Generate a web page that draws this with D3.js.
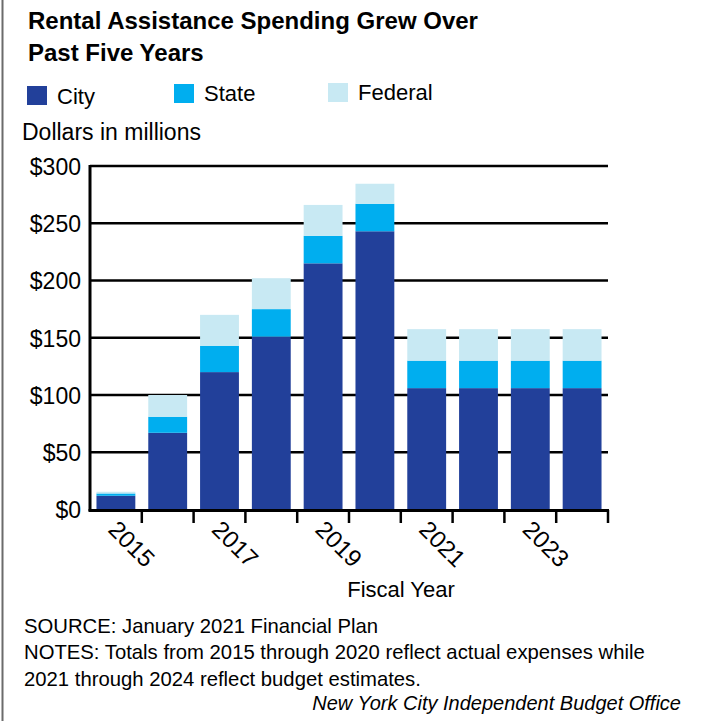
<!DOCTYPE html>
<html>
<head>
<meta charset="utf-8">
<script src="https://cdn.jsdelivr.net/npm/d3@7"></script>
<style>
  html, body { margin: 0; padding: 0; background: #fff; }
  svg { display: block; }
  text { font-family: "Liberation Sans", Arial, sans-serif; fill: #000; }
</style>
</head>
<body>
<svg id="chart" width="704" height="721"></svg>
<script>
const years = ["2015","2016","2017","2018","2019","2020","2021","2022","2023","2024"];
const city    = [12, 67, 120, 151, 215, 243, 106, 106, 106, 106];
const state   = [2, 14, 23, 24, 24, 24, 24, 24, 24, 24];
const federal = [1.5, 19, 27, 27, 27, 17.5, 27.5, 27.5, 27.5, 27.5];
const seriesNames = ["City", "State", "Federal"];
const seriesColors = ["#22409a", "#00aeef", "#c8e9f3"];
const yTicks = [0, 50, 100, 150, 200, 250, 300];
const xLabelYears = ["2015","2017","2019","2021","2023"];

const svg = d3.select("#chart");

// left border
svg.append("line").attr("x1", 2.5).attr("x2", 2.5).attr("y1", 0).attr("y2", 721)
  .attr("stroke", "#6b6b6b").attr("stroke-width", 2);

// title
const title = svg.append("text").attr("x", 28).attr("font-weight", "bold").attr("font-size", 24);
title.append("tspan").attr("x", 28).attr("y", 29).text("Rental Assistance Spending Grew Over");
title.append("tspan").attr("x", 28).attr("y", 61).text("Past Five Years");

// legend
const legendPos = [{x: 27, y: 86, tx: 57, ty: 104}, {x: 174, y: 84, tx: 204, ty: 101}, {x: 328, y: 83, tx: 358, ty: 100}];
seriesNames.forEach((n, i) => {
  const p = legendPos[i];
  svg.append("rect").attr("x", p.x).attr("y", p.y).attr("width", 20).attr("height", 19).attr("fill", seriesColors[i]);
  svg.append("text").attr("x", p.tx).attr("y", p.ty).attr("font-size", 22).text(n);
});

svg.append("text").attr("x", 22).attr("y", 140).attr("font-size", 23).text("Dollars in millions");

const x0 = 90, x1 = 608;
const y = d3.scaleLinear().domain([0, 300]).range([509.5, 166]);
const x = d3.scaleBand().domain(years).range([x0, x1]).paddingInner(0.25).paddingOuter(0.125);

// gridlines
const grid = svg.append("g");
grid.selectAll("line").data(yTicks.filter(t => t > 0)).join("line")
  .attr("x1", x0).attr("x2", x1).attr("y1", d => y(d)).attr("y2", d => y(d))
  .attr("stroke", "#000").attr("stroke-width", 2.5);

// y axis labels
const yAxis = d3.axisLeft(y).tickValues(yTicks).tickFormat(d => "$" + d).tickSize(0).tickPadding(9);
const ya = svg.append("g").attr("transform", `translate(${x0},0)`).call(yAxis);
ya.select(".domain").remove();
ya.selectAll("text").attr("font-size", 23).attr("font-family", "Liberation Sans, Arial, sans-serif").attr("fill", "#000").attr("dy", "0.36em");

// stacked bars
const rows = years.map((yr, i) => ({year: yr, City: city[i], State: state[i], Federal: federal[i]}));
const stack = d3.stack().keys(seriesNames)(rows);
svg.append("g").selectAll("g").data(stack).join("g")
  .attr("fill", (d, i) => seriesColors[i])
  .selectAll("rect").data(d => d).join("rect")
  .attr("x", d => x(d.data.year))
  .attr("width", x.bandwidth())
  .attr("y", d => y(d[1]))
  .attr("height", d => y(d[0]) - y(d[1]));

// axes lines
svg.append("line").attr("x1", x0).attr("x2", x0).attr("y1", y(300) - 1).attr("y2", 511)
  .attr("stroke", "#000").attr("stroke-width", 3);
svg.append("line").attr("x1", x0 - 1.5).attr("x2", x1 + 1).attr("y1", 510.5).attr("y2", 510.5)
  .attr("stroke", "#000").attr("stroke-width", 3);

// x ticks at band boundaries
const step = x.step();
const boundaries = years.map(yr => x(yr) + x.bandwidth() + (step - x.bandwidth()) / 2);
svg.append("g").selectAll("line").data(boundaries).join("line")
  .attr("x1", d => d).attr("x2", d => d).attr("y1", 510).attr("y2", 523)
  .attr("stroke", "#000").attr("stroke-width", 2.5);

// x labels
svg.append("g").selectAll("text").data(xLabelYears).join("text")
  .attr("transform", d => `translate(${x(d) + x.bandwidth() / 2 - 9},531) rotate(45)`)
  .attr("font-size", 24).text(d => d);

svg.append("text").attr("x", 401).attr("y", 597).attr("text-anchor", "middle").attr("font-size", 22).text("Fiscal Year");

// notes
const notes = ["SOURCE: January 2021 Financial Plan",
  "NOTES: Totals from 2015 through 2020 reflect actual expenses while",
  "2021 through 2024 reflect budget estimates."];
const noteY = [633, 659, 686];
notes.forEach((t, i) => svg.append("text").attr("x", 24).attr("y", noteY[i]).attr("font-size", 20.3).text(t));
svg.append("text").attr("x", 681).attr("y", 710).attr("text-anchor", "end").attr("font-size", 20)
  .attr("font-style", "italic").text("New York City Independent Budget Office");
</script>
</body>
</html>
